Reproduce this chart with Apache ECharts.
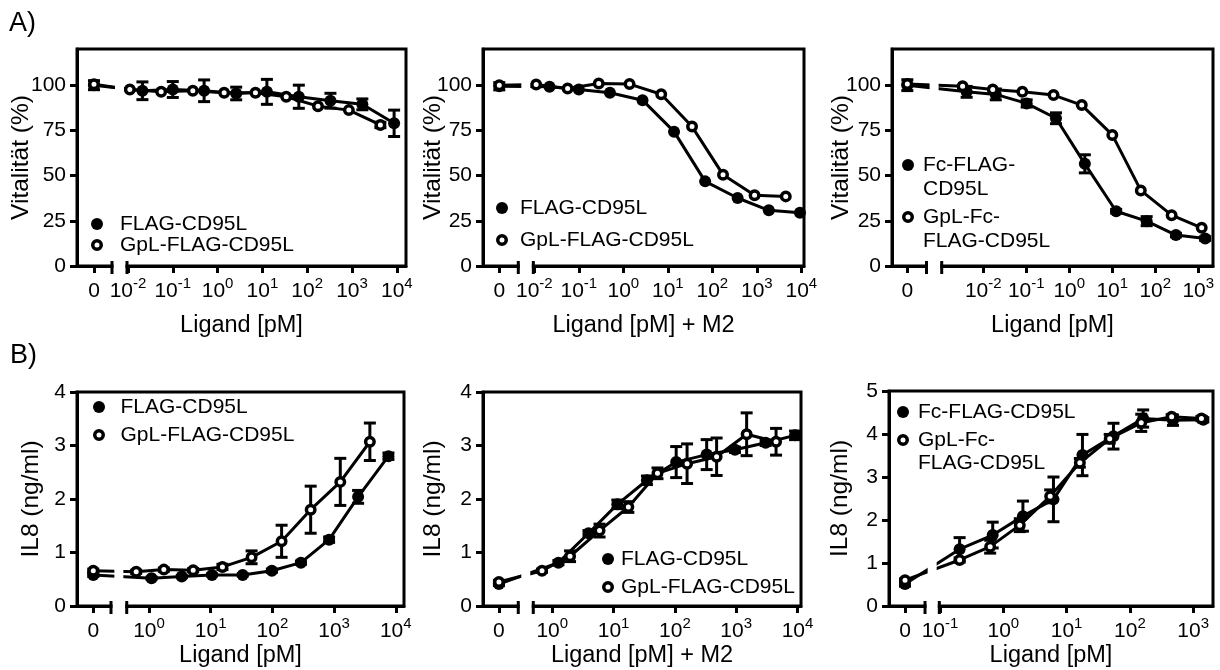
<!DOCTYPE html>
<html><head><meta charset="utf-8">
<script src="https://cdn.jsdelivr.net/npm/echarts@6/dist/echarts.min.js"></script>
<style>html,body{margin:0;padding:0;background:#fff}#c{width:1220px;height:670px}</style>
</head><body><div id="c"></div>
<script>
// ---------------- DATA (concentration in pM, 0 = untreated control) ----------------
const A1_flag_x = [0, 0.021, 0.1, 0.5, 2.6, 12.6, 65, 330, 1700, 8700];
const A1_flag_y = [100, 96.9, 97.6, 96.9, 95.4, 96.3, 93.6, 91.4, 89.4, 78.9];
const A1_flag_e = [2.5, 4.9, 4.4, 6.0, 3.5, 6.9, 6.4, 4.1, 3.0, 7.3];
const A1_gpl_x = [0, 0.011, 0.055, 0.28, 1.4, 7, 34, 174, 850, 4300];
const A1_gpl_y = [100.5, 97.6, 96.3, 96.9, 95.8, 95.8, 93.6, 88.4, 86.2, 78.0];
const A1_gpl_e = [0, 0, 0, 0, 0, 0, 0, 0, 0, 1.5];

const A2_flag_x = [0, 0.022, 0.1, 0.5, 2.7, 13.8, 69, 370, 1860, 9300];
const A2_flag_y = [99.4, 99.1, 97.6, 95.8, 91.7, 74.3, 46.8, 37.6, 30.8, 29.4];
const A2_flag_e = [2, 0, 0, 0, 0, 0, 0, 0, 0, 0];
const A2_gpl_x = [0, 0.011, 0.056, 0.28, 1.38, 7.1, 35, 174, 890, 4470];
const A2_gpl_y = [100, 100.4, 98.2, 100.9, 100.6, 95.0, 77.1, 50.5, 39.1, 38.5];
const A2_gpl_e = [0, 0, 0, 0, 0, 0, 0, 0, 0, 0];

const A3_fc_x = [0, 0.0041, 0.0195, 0.102, 0.49, 2.3, 12.3, 63, 302, 1445];
const A3_fc_y = [100, 96.3, 94.9, 89.9, 81.7, 56.5, 30.3, 24.8, 17.1, 15.2];
const A3_fc_e = [3, 3, 3, 2, 3, 5, 1, 2.5, 1, 1];
const A3_gplfc_x = [0, 0.0033, 0.0166, 0.081, 0.43, 1.95, 10, 46, 240, 1200];
const A3_gplfc_y = [100.6, 99.4, 97.6, 96.3, 94.5, 89.0, 72.5, 41.8, 28.1, 21.1];
const A3_gplfc_e = [0, 0, 0, 0, 0, 0, 0, 0, 0, 0];

const B1_flag_x = [0, 1.1, 3.4, 10.5, 33, 98, 290, 830, 2450, 7600];
const B1_flag_y = [0.58, 0.52, 0.55, 0.58, 0.58, 0.66, 0.81, 1.24, 2.04, 2.80];
const B1_flag_e = [0.03, 0.02, 0.02, 0.02, 0.02, 0.03, 0.03, 0.05, 0.12, 0.06];
const B1_gpl_x = [0, 0.62, 1.74, 5.2, 15.5, 46, 141, 417, 1260, 3800];
const B1_gpl_y = [0.66, 0.64, 0.68, 0.67, 0.73, 0.91, 1.21, 1.80, 2.32, 3.07];
const B1_gpl_e = [0.03, 0.03, 0.03, 0.03, 0.05, 0.12, 0.30, 0.44, 0.44, 0.35];

const B2_flag_x = [0, 1.26, 3.9, 11.5, 35, 105, 330, 955, 3020, 9120];
const B2_flag_y = [0.41, 0.81, 1.36, 1.90, 2.35, 2.69, 2.83, 2.92, 3.05, 3.19];
const B2_flag_e = [0.03, 0.04, 0.05, 0.08, 0.08, 0.29, 0.28, 0.05, 0.05, 0.08];
const B2_gpl_x = [0, 0.68, 1.95, 5.9, 17.4, 52, 158, 479, 1480, 4470];
const B2_gpl_y = [0.45, 0.66, 0.93, 1.41, 1.85, 2.48, 2.66, 2.79, 3.21, 3.07];
const B2_gpl_e = [0.03, 0.03, 0.10, 0.12, 0.10, 0.10, 0.37, 0.35, 0.40, 0.25];

const B3_fc_x = [0, 0.204, 0.68, 2.04, 6.2, 17.8, 55, 162, 479, 1445];
const B3_fc_y = [0.51, 1.32, 1.65, 2.09, 2.48, 3.51, 3.95, 4.36, 4.32, 4.33];
const B3_fc_e = [0.05, 0.27, 0.30, 0.35, 0.52, 0.48, 0.30, 0.20, 0.12, 0.05];
const B3_gplfc_x = [0, 0.204, 0.62, 1.82, 5.5, 16.2, 48, 151, 457, 1350];
const B3_gplfc_y = [0.60, 1.07, 1.38, 1.88, 2.55, 3.33, 3.89, 4.26, 4.40, 4.36];
const B3_gplfc_e = [0.03, 0.05, 0.15, 0.15, 0.15, 0.10, 0.10, 0.20, 0.05, 0.05];

// tick labels (x: decades, log10 exponents; y: values)
const X_DEC_A12 = [-2, -1, 0, 1, 2, 3, 4];
const X_DEC_A3 = [-2, -1, 0, 1, 2, 3];
const X_DEC_B12 = [0, 1, 2, 3, 4];
const X_DEC_B3 = [-1, 0, 1, 2, 3];
const Y_TICKS_A = [0, 25, 50, 75, 100];
const Y_TICKS_B = [0, 1, 2, 3, 4];
const Y_TICKS_B3 = [0, 1, 2, 3, 4, 5];

const N_FLAG = 'FLAG-CD95L', N_GPL = 'GpL-FLAG-CD95L';
const N_FC = 'Fc-FLAG-CD95L', N_GPLFC = 'GpL-Fc-FLAG-CD95L';

// ---------------- LAYOUT ----------------
const FONT = "'Liberation Sans', Arial, Helvetica, sans-serif";
const RING = 'path://M0,6A6,6,0,1,1,12,6A6,6,0,1,1,0,6ZM3.5,6A2.5,2.5,0,1,0,8.5,6A2.5,2.5,0,1,0,3.5,6Z';

const panels = [
  { box:[77,49,406,266], xr:[-3.138,4.205], zero:-2.759, brk:[-2.357,-2.022], dec:X_DEC_A12,
    yMax:120, yTicks:Y_TICKS_A, yName:'Vitalität (%)', yNameGap:43, xName:'Ligand [pM]', xNameGap:48,
    s1:{n:N_FLAG, x:A1_flag_x, y:A1_flag_y, e:A1_flag_e}, s2:{n:N_GPL, x:A1_gpl_x, y:A1_gpl_y, e:A1_gpl_e},
    leg:{x:97, w:36, top:213.5, L:19, gap:0, lab:['FLAG-CD95L','GpL-FLAG-CD95L']} },
  { box:[483,49,804,266], xr:[-3.153,4.06], zero:-2.787, brk:[-2.36,-2.022], dec:X_DEC_A12,
    yMax:120, yTicks:Y_TICKS_A, yName:'Vitalität (%)', yNameGap:37, xName:'Ligand [pM] + M2', xNameGap:48,
    s1:{n:N_FLAG, x:A2_flag_x, y:A2_flag_y, e:A2_flag_e}, s2:{n:N_GPL, x:A2_gpl_x, y:A2_gpl_y, e:A2_gpl_e},
    leg:{x:502, w:26, top:196.5, L:23, gap:9, lab:['FLAG-CD95L','GpL-FLAG-CD95L']} },
  { box:[892,49,1213,266], xr:[-4.123,3.342], zero:-3.767, brk:[-3.321,-2.967], dec:X_DEC_A3,
    yMax:120, yTicks:Y_TICKS_A, yName:'Vitalität (%)', yNameGap:38, xName:'Ligand [pM]', xNameGap:48,
    s1:{n:N_FC, x:A3_fc_x, y:A3_fc_y, e:A3_fc_e}, s2:{n:N_GPLFC, x:A3_gplfc_x, y:A3_gplfc_y, e:A3_gplfc_e},
    leg:{x:908, w:20, top:129, L:24, gap:-20, lab:['Fc-FLAG-\nCD95L','GpL-Fc-\nFLAG-CD95L']} },
  { box:[77,392,404,606], xr:[-1.167,4.133], zero:-0.903, brk:[-0.616,-0.361], dec:X_DEC_B12,
    yMax:4, yTicks:Y_TICKS_B, yName:'IL8 (ng/ml)', yNameGap:33, xName:'Ligand [pM]', xNameGap:38,
    s1:{n:N_FLAG, x:B1_flag_x, y:B1_flag_y, e:B1_flag_e}, s2:{n:N_GPL, x:B1_gpl_x, y:B1_gpl_y, e:B1_gpl_e},
    leg:{x:99, w:33, top:395.5, L:23, gap:5, lab:['FLAG-CD95L','GpL-FLAG-CD95L']} },
  { box:[483,392,801,606], xr:[-1.13,4.057], zero:-0.87, brk:[-0.555,-0.31], dec:X_DEC_B12,
    yMax:4, yTicks:Y_TICKS_B, yName:'IL8 (ng/ml)', yNameGap:37, xName:'Ligand [pM] + M2', xNameGap:38,
    s1:{n:N_FLAG, x:B2_flag_x, y:B2_flag_y, e:B2_flag_e}, s2:{n:N_GPL, x:B2_gpl_x, y:B2_gpl_y, e:B2_gpl_e},
    leg:{x:608, w:16, top:547.5, L:23, gap:5, lab:['FLAG-CD95L','GpL-FLAG-CD95L']} },
  { box:[889,391,1213,606], xr:[-1.806,3.313], zero:-1.553, brk:[-1.237,-1.011], dec:X_DEC_B3,
    yMax:5, yTicks:Y_TICKS_B3, yName:'IL8 (ng/ml)', yNameGap:36, xName:'Ligand [pM]', xNameGap:38,
    s1:{n:N_FC, x:B3_fc_x, y:B3_fc_y, e:B3_fc_e}, s2:{n:N_GPLFC, x:B3_gplfc_x, y:B3_gplfc_y, e:B3_gplfc_e},
    leg:{x:903, w:20, top:400.5, L:23, gap:-18, lab:['Fc-FLAG-CD95L','GpL-Fc-\nFLAG-CD95L']} }
];

function renderErr(params, api) {
  const x = api.value(0), y = api.value(1), e = api.value(2);
  if (!(e > 0)) return null;
  const a = api.coord([x, y + e]), b = api.coord([x, y - e]);
  const st = {stroke:'#000', lineWidth:3, fill:null};
  return {type:'group', children:[
    {type:'line', shape:{x1:a[0], y1:a[1], x2:b[0], y2:b[1]}, style:st},
    {type:'line', shape:{x1:a[0]-6, y1:a[1], x2:a[0]+6, y2:a[1]}, style:st},
    {type:'line', shape:{x1:b[0]-6, y1:b[1], x2:b[0]+6, y2:b[1]}, style:st}
  ]};
}
function renderBreak(params, api) {
  const cs = params.coordSys;
  const x0 = api.coord([api.value(0), 0])[0], x1 = api.coord([api.value(2), 0])[0];
  const yb = cs.y + cs.height, mid = (x0 + x1) / 2;
  const st = {stroke:'#000', lineWidth:3};
  return {type:'group', children:[
    {type:'rect', shape:{x:x0+1.5, y:yb-3, width:x1-x0-3, height:6}, style:{fill:'#fff'}},
    {type:'rect', shape:{x:mid-4.5, y:cs.y+3, width:9, height:cs.height-6}, style:{fill:'#fff'}},
    {type:'line', shape:{x1:x0, y1:yb-5, x2:x0, y2:yb+8}, style:st},
    {type:'line', shape:{x1:x1, y1:yb-5, x2:x1, y2:yb+8}, style:st}
  ]};
}

const option = {
  animation:false, backgroundColor:'#fff',
  textStyle:{fontFamily:FONT, color:'#000'},
  grid:[], xAxis:[], yAxis:[], series:[], legend:[],
  graphic:[
    {type:'text', left:9, top:10, style:{text:'A)', fontSize:27, fontFamily:FONT, fill:'#000'}},
    {type:'text', left:10, top:342, style:{text:'B)', fontSize:27, fontFamily:FONT, fill:'#000'}}
  ]
};

panels.forEach((p, i) => {
  const [l, t, r, b] = p.box;
  option.grid.push({left:l, top:t, width:r-l, height:b-t, show:true, borderColor:'#000', borderWidth:3,
    backgroundColor:'rgba(0,0,0,0)', containLabel:false, outerBoundsMode:'none'});
  const xt = [p.zero].concat(p.dec);
  const zero = p.zero;
  option.xAxis.push({
    type:'value', gridIndex:i, min:p.xr[0], max:p.xr[1],
    name:p.xName, nameLocation:'middle', nameGap:p.xNameGap, nameMoveOverlap:false,
    nameTextStyle:{fontSize:23.5, color:'#000', fontFamily:FONT},
    axisLine:{show:true, onZero:false, lineStyle:{color:'#000', width:3}},
    axisTick:{show:true, customValues:xt, length:7, lineStyle:{color:'#000', width:3}},
    axisLabel:{customValues:xt, margin:10.5, color:'#000', fontSize:21,
      formatter:(v) => Math.abs(v - zero) < 1e-6 ? '{b|0}' : '{b|10}{s|' + Math.round(v) + '}',
      rich:{b:{fontSize:21, lineHeight:30, color:'#000', fontFamily:FONT},
            s:{fontSize:15, verticalAlign:'top', color:'#000', fontFamily:FONT}}},
    splitLine:{show:false}
  });
  option.yAxis.push({
    type:'value', gridIndex:i, min:0, max:p.yMax,
    name:p.yName, nameLocation:'middle', nameGap:p.yNameGap, nameMoveOverlap:false,
    nameTextStyle:{fontSize:24.5, color:'#000', fontFamily:FONT},
    axisLine:{show:true, onZero:false, lineStyle:{color:'#000', width:3}},
    axisTick:{show:true, customValues:p.yTicks, length:7, lineStyle:{color:'#000', width:3}},
    axisLabel:{customValues:p.yTicks, margin:11, color:'#000', fontSize:21, fontFamily:FONT},
    splitLine:{show:false}
  });
  const toX = (c) => c === 0 ? zero : Math.log10(c);
  [p.s1, p.s2].forEach((s) => {
    option.series.push({
      type:'custom', xAxisIndex:i, yAxisIndex:i, z:2, silent:true, renderItem:renderErr,
      encode:{x:0, y:1}, data:s.x.map((c, j) => [toX(c), s.y[j], s.e[j]])
    });
  });
  [p.s1, p.s2].forEach((s, k) => {
    option.series.push({
      type:'line', name:s.n, xAxisIndex:i, yAxisIndex:i, z:3 + k, silent:true,
      symbol:'circle', symbolSize: k === 0 ? 12 : 8.5, showSymbol:true, showAllSymbol:true,
      itemStyle: k === 0 ? {color:'#000'} : {color:'#fff', borderColor:'#000', borderWidth:3.5},
      lineStyle:{color:'#000', width:3}, emphasis:{disabled:true},
      data:s.x.map((c, j) => [toX(c), s.y[j]])
    });
  });
  option.series.push({
    type:'custom', xAxisIndex:i, yAxisIndex:i, z:10, silent:true, renderItem:renderBreak,
    encode:{x:0, y:1}, data:[[p.brk[0], 0, p.brk[1]]]
  });
  const L = p.leg;
  // multi-line entries get a leading blank line so the marker sits on the first text line
  const fix = (txt) => txt.indexOf('\n') >= 0 ? '\n' + txt : txt;
  const labMap = {}; labMap[p.s1.n] = fix(L.lab[0]); labMap[p.s2.n] = fix(L.lab[1]);
  option.legend.push({
    orient:'vertical', left:L.x - 6, top:L.top, padding:0, itemGap:L.gap, z:20,
    itemWidth:L.w, itemHeight:12, selectedMode:false, symbolKeepAspect:true,
    textStyle:{fontSize:21, color:'#000', fontFamily:FONT, lineHeight:L.L},
    formatter:(name) => labMap[name],
    data:[
      {name:p.s1.n, icon:'circle', itemStyle:{color:'#000', borderWidth:0}},
      {name:p.s2.n, icon:RING, itemStyle:{color:'#000', borderWidth:0}}
    ]
  });
});

const chart = echarts.init(document.getElementById('c'), null, {renderer:'canvas'});
chart.setOption(option);
</script>
</body></html>
